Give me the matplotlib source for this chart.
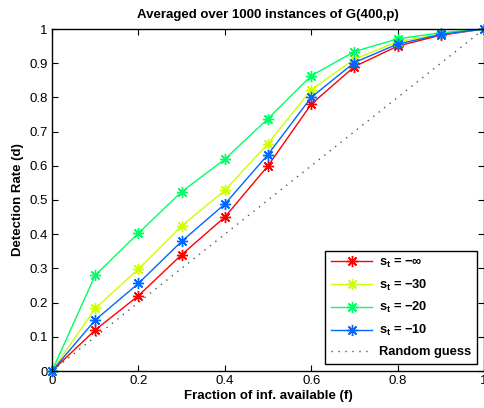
import matplotlib
matplotlib.use("Agg")
import matplotlib.pyplot as plt
from matplotlib.ticker import FixedLocator

plt.rcParams['font.family'] = ['Liberation Sans', 'DejaVu Sans']
plt.rcParams['mathtext.fontset'] = 'custom'
plt.rcParams['mathtext.rm'] = 'Liberation Sans:bold'
plt.rcParams['mathtext.it'] = 'Liberation Sans:bold'
plt.rcParams['mathtext.bf'] = 'Liberation Sans:bold'

f = [0, 0.1, 0.2, 0.3, 0.4, 0.5, 0.6, 0.7, 0.8, 0.9, 1.0]
d_minf = [0, 0.12, 0.22, 0.34, 0.45, 0.60, 0.78, 0.89, 0.95, 0.982, 1.0]
d_m30 = [0, 0.183, 0.298, 0.424, 0.528, 0.665, 0.822, 0.912, 0.963, 0.985, 1.0]
d_m20 = [0, 0.28, 0.403, 0.524, 0.619, 0.738, 0.863, 0.934, 0.971, 0.989, 1.0]
d_m10 = [0, 0.149, 0.256, 0.379, 0.488, 0.633, 0.80, 0.902, 0.956, 0.984, 1.0]
random_guess = [0, 1]
random_x = [0, 1]

labels = [r'$\mathbf{s_t}$ = −∞', r'$\mathbf{s_t}$ = −30',
          r'$\mathbf{s_t}$ = −20', r'$\mathbf{s_t}$ = −10', 'Random guess']
colors = ['#ff0000', '#ccff00', '#00ff66', '#0066ff']

fig = plt.figure(figsize=(4.85, 4.08), dpi=100)
ax = fig.add_axes([52/485, 1-371/408, 432/485, (371-29)/408])

ast = (8, 2, 0)
for y, c, lab in zip([d_minf, d_m30, d_m20, d_m10], colors, labels[:4]):
    ax.plot(f, y, color=c, lw=1.0, marker=ast, markersize=8, markeredgewidth=1.0,
            label=lab, clip_on=False)
ax.plot(random_x, random_guess, color='#555555', ls=(0, (1, 4)), lw=1.0,
        label=labels[4])

ax.set_xlim(0, 1)
ax.set_ylim(0, 1)
ax.xaxis.set_major_locator(FixedLocator([0, 0.2, 0.4, 0.6, 0.8, 1.0]))
ax.yaxis.set_major_locator(FixedLocator([i/10 for i in range(11)]))
ax.set_xticklabels(['0', '0.2', '0.4', '0.6', '0.8', '1'])
ax.set_yticklabels(['0', '0.1', '0.2', '0.3', '0.4', '0.5', '0.6', '0.7', '0.8', '0.9', '1'])
ax.tick_params(direction='in', top=True, right=True, length=4, width=0.8,
               labelsize=9.5, pad=3)
for s in ax.spines.values():
    s.set_linewidth(1.0)

ax.set_xlabel('Fraction of inf. available (f)', fontsize=9.5, fontweight='bold', labelpad=2)
ax.set_ylabel('Detection Rate (d)', fontsize=9.5, fontweight='bold', labelpad=4)
ax.set_title('Averaged over 1000 instances of G(400,p)', fontsize=9.5,
             fontweight='bold', pad=8)

leg = ax.legend(loc='lower right', fancybox=False, edgecolor='black',
                prop={'weight': 'bold', 'size': 9.3}, handlelength=3.2,
                borderaxespad=0.55, labelspacing=0.6, handletextpad=0.5,
                borderpad=0.45, framealpha=1)
leg.get_frame().set_linewidth(1.0)

fig.savefig('out.png', dpi=100)
